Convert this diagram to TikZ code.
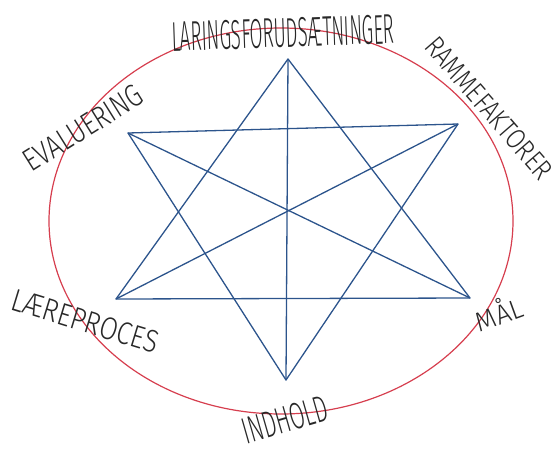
\documentclass[tikz,border=0pt]{standalone}
\usepackage{fontspec}
\setmainfont{Fira Sans Light}
\usepackage{graphicx}
\usetikzlibrary{shapes.geometric}
\definecolor{starblue}{RGB}{44,84,140}
\definecolor{ringred}{RGB}{214,62,78}
\definecolor{inkgrey}{RGB}{40,40,40}
\newcommand{\handtext}[3]{\resizebox{#1pt}{#2pt}{#3}}
\tikzset{
  starline/.style={draw=starblue, line width=1.3pt, line join=round},
  ring/.style={draw=ringred, line width=1.2pt},
  hand/.style={inner sep=0pt, text=inkgrey},
}
\begin{document}
\begin{tikzpicture}[x=1pt,y=-1pt]
\useasboundingbox (0,0) rectangle (557,450);
% ellipse
\node[ring, ellipse, minimum width=464pt, minimum height=386pt, inner sep=0pt] (ring) at (281,221) {};
% star vertices
\coordinate (T) at (288,59);
\coordinate (TL) at (128,133);
\coordinate (TR) at (458,124);
\coordinate (BL) at (116,299);
\coordinate (BR) at (470,298);
\coordinate (B) at (286,380);
\draw[starline] (T) -- (BL) -- (BR) -- cycle;
\draw[starline] (B) -- (TL) -- (TR) -- cycle;
\draw[starline] (T) -- (B);
\draw[starline] (TL) -- (BR);
\draw[starline] (TR) -- (BL);
% labels
\node[hand, rotate=2] (l1) at (283,33) {\handtext{223}{29}{LARINGSFORUDSÆTNINGER}};
\node[hand, rotate=-49] (l2) at (489,108) {\handtext{178}{20}{RAMMEFAKTORER}};
\node[hand, rotate=32] (l3) at (83,128) {\handtext{135}{22}{EVALUERING}};
\node[hand, rotate=-17] (l4) at (85,321) {\handtext{152}{22}{LÆREPROCES}};
\node[hand, rotate=20] (l5) at (498,312) {\handtext{48}{26}{MÅL}};
\node[hand, rotate=16] (l6) at (285,420) {\handtext{88}{26}{INDHOLD}};
\end{tikzpicture}
\end{document}
